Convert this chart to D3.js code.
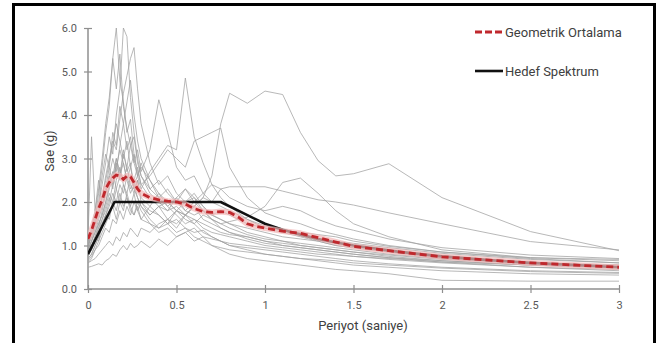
<!DOCTYPE html>
<html>
<head>
<meta charset="utf-8">
<script src="https://cdn.jsdelivr.net/npm/d3@7"></script>
<style>
  html, body { margin: 0; padding: 0; background: #fff; }
  svg { display: block; }
  text { font-family: Roboto, "Noto Sans", sans-serif; }
</style>
</head>
<body>
<svg id="chart" width="662" height="343"></svg>
<script>
// Spectral periods (s) shared by all ground-motion records
const periods = [0, 0.02, 0.04, 0.06, 0.08, 0.1, 0.12, 0.14, 0.16, 0.18, 0.2, 0.22, 0.24, 0.26, 0.28, 0.3,
  0.35, 0.4, 0.45, 0.5, 0.55, 0.6, 0.65, 0.7, 0.75, 0.8, 0.9, 1.0, 1.1, 1.2, 1.3, 1.4, 1.5, 1.7, 2.0, 2.5, 3.0];

// Scaled acceleration spectra of the individual records (g)
const rec01 = [0.85, 0.95, 1.2, 1.1, 1.5, 1.7, 1.6, 2.0, 1.8, 2.2, 1.9, 2.1, 1.8, 1.7, 1.9, 1.6, 1.5, 1.4, 1.6, 1.5, 1.7, 1.9, 2.1, 2.6, 3.8, 4.5, 4.27, 4.55, 4.47, 3.6, 2.95, 2.6, 2.65, 2.88, 2.1, 1.32, 0.88];
const rec02 = [0.9, 1.3, 1.6, 2.2, 2.8, 3.6, 4.2, 5.3, 6.0, 4.8, 4.3, 3.6, 3.9, 3.1, 2.7, 2.4, 2.1, 1.9, 2.0, 1.8, 1.7, 1.9, 1.6, 1.5, 1.4, 1.3, 1.2, 1.1, 1.0, 0.95, 0.9, 0.85, 0.8, 0.72, 0.62, 0.5, 0.42];
const rec03 = [1.0, 1.2, 1.5, 1.9, 2.4, 2.9, 3.5, 3.1, 4.0, 4.6, 6.0, 5.8, 4.4, 3.6, 3.0, 2.6, 2.3, 2.5, 2.2, 2.0, 2.3, 2.1, 1.8, 1.7, 1.6, 1.5, 1.3, 1.2, 1.1, 1.05, 1.0, 0.95, 0.9, 0.8, 0.7, 0.6, 0.5];
const rec04 = [0.8, 1.1, 1.4, 1.7, 2.1, 2.6, 3.0, 3.4, 3.2, 3.9, 4.5, 4.9, 5.3, 5.55, 4.6, 3.8, 2.9, 2.4, 2.6, 2.2, 2.0, 2.1, 1.9, 1.7, 1.6, 1.5, 1.4, 1.3, 1.2, 1.15, 1.1, 1.0, 0.95, 0.85, 0.72, 0.6, 0.55];
const rec05 = [1.1, 1.4, 1.8, 2.3, 3.0, 3.8, 4.4, 5.3, 4.6, 5.4, 4.2, 3.7, 3.3, 3.5, 2.9, 2.6, 2.2, 2.0, 1.8, 1.9, 1.7, 1.6, 1.5, 1.4, 1.3, 1.25, 1.2, 1.1, 1.05, 1.0, 0.95, 0.9, 0.85, 0.75, 0.65, 0.55, 0.48];
const rec06 = [1.2, 3.5, 1.8, 2.5, 1.9, 2.3, 2.8, 2.4, 3.0, 2.6, 3.2, 2.7, 2.9, 2.3, 2.5, 2.0, 1.8, 1.7, 1.5, 1.6, 1.4, 1.3, 1.35, 1.2, 1.1, 1.0, 0.95, 0.9, 0.85, 0.8, 0.75, 0.7, 0.65, 0.58, 0.5, 0.42, 0.38];
const rec07 = [0.9, 1.1, 1.3, 1.6, 1.9, 2.2, 2.6, 2.3, 2.9, 2.5, 3.1, 2.8, 3.3, 2.9, 3.2, 2.7, 3.2, 4.35, 3.6, 2.8, 2.5, 2.6, 2.2, 2.0, 1.9, 1.8, 1.6, 1.45, 1.35, 1.25, 1.15, 1.1, 1.05, 0.95, 0.82, 0.68, 0.6];
const rec08 = [0.85, 1.0, 1.2, 1.5, 1.7, 2.0, 2.4, 2.7, 2.3, 2.6, 2.9, 2.5, 2.8, 2.4, 2.6, 2.3, 2.7, 3.0, 3.3, 3.2, 4.85, 3.5, 2.9, 2.4, 2.1, 1.9, 1.6, 1.4, 1.3, 1.2, 1.1, 1.0, 0.95, 0.85, 0.7, 0.58, 0.52];
const rec09 = [0.7, 0.8, 1.0, 1.2, 1.4, 1.7, 1.9, 2.2, 2.0, 2.4, 2.2, 2.6, 2.3, 2.5, 2.8, 2.4, 2.6, 2.9, 3.2, 3.0, 2.8, 3.4, 3.5, 3.6, 3.7, 2.8, 2.1, 1.75, 1.6, 1.5, 1.35, 1.25, 1.15, 1.0, 0.85, 0.7, 0.6];
const rec10 = [0.8, 0.9, 1.1, 1.3, 1.6, 1.8, 2.1, 1.9, 2.3, 2.0, 2.4, 2.1, 1.9, 2.2, 1.8, 2.0, 1.7, 1.9, 1.8, 2.1, 2.3, 2.0, 2.2, 2.4, 2.3, 2.35, 2.35, 2.35, 2.25, 2.15, 2.05, 2.0, 1.93, 1.75, 1.5, 1.09, 0.9];
const rec11 = [0.6, 0.7, 0.9, 1.0, 1.2, 1.4, 1.3, 1.6, 1.5, 1.8, 1.6, 1.9, 1.7, 2.0, 1.8, 1.6, 1.9, 1.7, 1.5, 1.8, 1.6, 1.5, 1.7, 1.6, 1.5, 1.55, 1.65, 1.9, 2.45, 2.55, 2.2, 1.8, 1.5, 1.2, 0.9, 0.72, 0.65];
const rec12 = [0.5, 0.52, 0.55, 0.58, 0.55, 0.65, 0.7, 0.8, 0.75, 0.9, 1.0, 0.9, 1.05, 0.95, 1.0, 1.1, 0.95, 1.15, 1.0, 1.2, 1.3, 1.4, 1.2, 1.0, 0.9, 0.8, 0.7, 0.65, 0.6, 0.55, 0.5, 0.45, 0.42, 0.35, 0.2, 0.18, 0.18];
const rec13 = [0.6, 0.65, 0.7, 0.8, 0.9, 1.0, 1.1, 1.0, 1.2, 1.1, 1.3, 1.2, 1.4, 1.3, 1.2, 1.4, 1.3, 1.5, 1.6, 1.4, 1.7, 1.5, 1.3, 1.2, 1.1, 1.0, 0.9, 0.8, 0.75, 0.7, 0.65, 0.6, 0.55, 0.5, 0.42, 0.35, 0.32];
const rec14 = [1.0, 1.2, 1.5, 1.8, 2.1, 2.5, 2.9, 3.3, 3.8, 3.4, 3.0, 3.4, 2.8, 3.1, 2.6, 2.9, 2.3, 2.1, 2.3, 2.0, 1.8, 1.7, 1.8, 1.6, 1.5, 1.4, 1.25, 1.15, 1.1, 1.0, 0.95, 0.9, 0.85, 0.78, 0.68, 0.6, 0.55];
const rec15 = [0.75, 0.9, 1.1, 1.4, 1.8, 2.2, 2.6, 3.0, 2.7, 3.3, 3.8, 3.2, 3.5, 2.9, 2.6, 2.8, 2.5, 2.2, 1.9, 2.1, 1.8, 2.0, 1.8, 1.6, 1.4, 1.3, 1.15, 1.05, 1.0, 0.95, 0.9, 0.85, 0.8, 0.72, 0.65, 0.55, 0.5];
const rec16 = [0.95, 1.1, 1.3, 1.5, 1.7, 2.0, 2.3, 2.6, 3.0, 2.7, 2.5, 2.8, 2.4, 2.2, 2.5, 2.1, 1.9, 2.2, 2.0, 1.8, 2.0, 2.2, 1.9, 1.7, 1.8, 1.7, 1.5, 1.4, 1.35, 1.3, 1.25, 1.2, 1.1, 0.98, 0.85, 0.72, 0.68];
const rec17 = [0.7, 0.8, 1.0, 1.2, 1.5, 1.7, 2.0, 2.4, 2.8, 3.2, 2.9, 2.5, 2.2, 2.4, 2.1, 1.9, 1.6, 1.4, 1.5, 1.3, 1.4, 1.2, 1.1, 1.0, 0.95, 0.9, 0.85, 0.8, 0.75, 0.7, 0.68, 0.65, 0.6, 0.55, 0.48, 0.4, 0.36];
const rec18 = [0.9, 1.0, 1.2, 1.4, 1.6, 1.9, 2.2, 2.0, 2.5, 2.8, 2.4, 2.2, 2.6, 2.3, 2.1, 1.9, 1.7, 1.9, 1.6, 1.8, 1.7, 1.9, 2.1, 2.0, 2.3, 2.1, 1.9, 1.8, 1.9, 1.8, 1.6, 1.45, 1.35, 1.15, 0.95, 0.78, 0.7];
const rec19 = [1.0, 1.3, 1.7, 2.0, 2.6, 3.1, 2.8, 3.6, 3.3, 4.2, 3.8, 4.3, 4.8, 4.0, 3.4, 3.0, 2.5, 2.1, 1.9, 1.7, 1.5, 1.6, 1.4, 1.3, 1.25, 1.2, 1.1, 1.0, 0.95, 0.9, 0.85, 0.8, 0.75, 0.68, 0.6, 0.5, 0.45];
const rec20 = [0.65, 0.75, 0.9, 1.1, 1.3, 1.5, 1.7, 1.9, 1.6, 2.0, 1.8, 2.2, 1.9, 1.7, 2.0, 1.8, 1.5, 1.3, 1.4, 1.2, 1.3, 1.1, 1.2, 1.15, 1.1, 1.05, 1.0, 0.95, 0.9, 0.85, 0.8, 0.78, 0.75, 0.7, 0.62, 0.55, 0.5];
const records = [rec01, rec02, rec03, rec04, rec05, rec06, rec07, rec08, rec09, rec10,
  rec11, rec12, rec13, rec14, rec15, rec16, rec17, rec18, rec19, rec20];

// Geometric mean of the record set
const meanPeriods = [0, 0.02, 0.04, 0.06, 0.08, 0.1, 0.12, 0.14, 0.16, 0.18, 0.2, 0.22, 0.24, 0.26, 0.28, 0.3,
  0.35, 0.4, 0.45, 0.5, 0.55, 0.6, 0.65, 0.7, 0.75, 0.8, 0.85, 0.9, 0.95, 1.0, 1.1, 1.2, 1.3, 1.4, 1.5, 1.7, 2.0, 2.5, 3.0];
const meanValues = [1.15, 1.35, 1.6, 1.85, 2.05, 2.3, 2.45, 2.55, 2.62, 2.6, 2.52, 2.6, 2.58, 2.45, 2.3, 2.2,
  2.1, 2.05, 2.02, 2.0, 1.95, 1.85, 1.78, 1.76, 1.78, 1.76, 1.65, 1.5, 1.44, 1.4, 1.33, 1.28, 1.18, 1.08, 0.98, 0.88, 0.74, 0.6, 0.5];

// Target design spectrum
const targetPeriods = [0, 0.15, 0.75, 1.0, 1.1, 1.2, 1.3, 1.4, 1.5, 1.75, 2.0, 2.25, 2.5, 2.75, 3.0];
const targetValues = [0.8, 2.0, 2.0, 1.5, 1.36, 1.25, 1.15, 1.07, 1.0, 0.86, 0.75, 0.67, 0.6, 0.55, 0.5];

const xTicks = [0, 0.5, 1, 1.5, 2, 2.5, 3];
const xTickLabels = ["0", "0.5", "1", "1.5", "2", "2.5", "3"];
const yTicks = [0, 1, 2, 3, 4, 5, 6];
const yTickLabels = ["0.0", "1.0", "2.0", "3.0", "4.0", "5.0", "6.0"];

const legendLabels = ["Geometrik Ortalama", "Hedef Spektrum"];
const xTitle = "Periyot (saniye)";
const yTitle = "Sae (g)";

// ---- drawing ----
const svg = d3.select("#chart");
const plotLeft = 88, plotRight = 619, plotTop = 28, plotBottom = 289;

const x = d3.scaleLinear().domain([0, 3]).range([plotLeft, plotRight]);
const y = d3.scaleLinear().domain([0, 6]).range([plotBottom, plotTop]);

// outer frame
svg.append("path")
  .attr("d", "M13.5,346 L13.5,4.5 L654.5,4.5 L654.5,346")
  .attr("fill", "none").attr("stroke", "#000").attr("stroke-width", 3);

svg.append("defs").append("clipPath").attr("id", "plotClip")
  .append("rect").attr("x", plotLeft).attr("y", plotTop - 1)
  .attr("width", plotRight - plotLeft + 2).attr("height", plotBottom - plotTop + 1);

const axisColor = "#8f8f8f";
const labelColor = "#595959";

// y axis
const yAxis = svg.append("g").attr("transform", `translate(${plotLeft},0)`)
  .call(d3.axisLeft(y).tickValues(yTicks).tickFormat((d, i) => yTickLabels[i]).tickSize(4).tickPadding(7));
yAxis.select(".domain").attr("stroke", axisColor).attr("stroke-width", 1.5).attr("d", `M0,${plotBottom}V${plotTop}`);
yAxis.selectAll(".tick line").attr("stroke", axisColor).attr("stroke-width", 1.2).attr("x1", 4).attr("x2", -4);
yAxis.selectAll(".tick text").attr("fill", labelColor).attr("font-size", 11)
  .attr("font-family", "Roboto, 'Noto Sans', sans-serif");

// x axis
const xAxis = svg.append("g").attr("transform", `translate(0,${plotBottom})`)
  .call(d3.axisBottom(x).tickValues(xTicks).tickFormat((d, i) => xTickLabels[i]).tickSize(4).tickPadding(8));
xAxis.select(".domain").attr("stroke", axisColor).attr("stroke-width", 1.5).attr("d", `M${plotLeft},0H${plotRight}`);
xAxis.selectAll(".tick line").attr("stroke", axisColor).attr("stroke-width", 1.2).attr("y1", -4).attr("y2", 4);
xAxis.selectAll(".tick text").attr("fill", labelColor).attr("font-size", 11)
  .attr("font-family", "Roboto, 'Noto Sans', sans-serif");

// axis titles
svg.append("text").attr("x", 363).attr("y", 330).attr("text-anchor", "middle")
  .attr("font-size", 13).attr("fill", "#404040").text(xTitle);
svg.append("text").attr("transform", "translate(54,151) rotate(-90)").attr("text-anchor", "middle")
  .attr("font-size", 13).attr("fill", "#404040").text(yTitle);

// record spectra
const plot = svg.append("g").attr("clip-path", "url(#plotClip)");
const line = d3.line().x(d => x(d[0])).y(d => y(d[1]));
plot.selectAll("path.rec").data(records).join("path").attr("class", "rec")
  .attr("d", r => line(r.map((v, i) => [periods[i], v])))
  .attr("fill", "none").attr("stroke", "#a0a0a0").attr("stroke-opacity", 0.75).attr("stroke-width", 1);

// target spectrum
const targetPts = targetPeriods.map((t, i) => [t, targetValues[i]]);
plot.append("path").attr("d", line(targetPts)).attr("fill", "none")
  .attr("stroke", "#111").attr("stroke-width", 2.6).attr("stroke-linejoin", "round");

// geometric mean (with soft halo)
const meanPts = meanPeriods.map((t, i) => [t, meanValues[i]]);
plot.append("path").attr("d", line(meanPts)).attr("fill", "none")
  .attr("stroke", "#f2b8b8").attr("stroke-opacity", 0.7).attr("stroke-width", 6).attr("stroke-linejoin", "round");
plot.append("path").attr("d", line(meanPts)).attr("fill", "none")
  .attr("stroke", "#c0282d").attr("stroke-width", 2.8).attr("stroke-dasharray", "7,4");

// legend
const legend = svg.append("g");
legend.append("line").attr("x1", 475).attr("x2", 503).attr("y1", 32).attr("y2", 32)
  .attr("stroke", "#c0282d").attr("stroke-width", 2.8).attr("stroke-dasharray", "7,3");
legend.append("text").attr("x", 505).attr("y", 36.5).attr("font-size", 13).attr("fill", "#404040").text(legendLabels[0]);
legend.append("line").attr("x1", 475).attr("x2", 503).attr("y1", 71).attr("y2", 71)
  .attr("stroke", "#111").attr("stroke-width", 2.6);
legend.append("text").attr("x", 505).attr("y", 75.5).attr("font-size", 13).attr("fill", "#404040").text(legendLabels[1]);
</script>
</body>
</html>
